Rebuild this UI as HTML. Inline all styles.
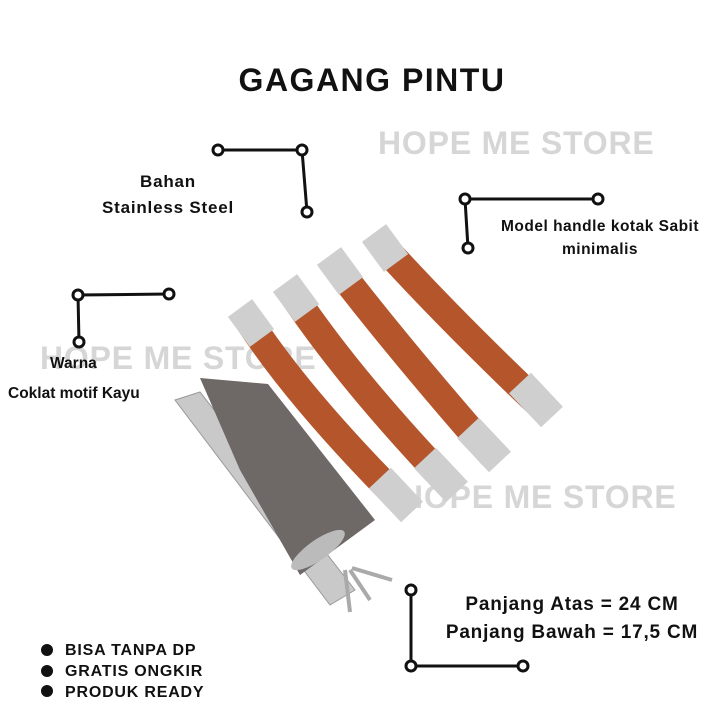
<!DOCTYPE html>
<html><head><meta charset="utf-8"><style>
body{margin:0;background:#fff;width:726px;height:726px;overflow:hidden;position:relative;font-family:"Liberation Sans",sans-serif;font-weight:bold;color:#111}
.t{position:absolute;white-space:nowrap}
.wm{position:absolute;color:#d6d6d6;font-size:32px;white-space:nowrap;letter-spacing:0.8px}
svg{position:absolute;left:0;top:0}
</style></head><body>
<div class="wm" style="left:378px;top:125px">HOPE ME STORE</div>
<div class="wm" style="left:40px;top:340px">HOPE ME STORE</div>
<div class="wm" style="left:400px;top:479px">HOPE ME STORE</div>
<svg width="726" height="726">
<g fill="none" stroke="#111" stroke-width="3">
<polyline points="218,150 302,150 307,212"/>
<polyline points="598,199 465,199 468,248"/>
<polyline points="169,294 78,295 79,342"/>
<polyline points="411,590 411,666 523,666"/>
</g>
<g fill="#fff" stroke="#111" stroke-width="3">
<circle cx="218" cy="150" r="5"/><circle cx="302" cy="150" r="5"/><circle cx="307" cy="212" r="5"/>
<circle cx="598" cy="199" r="5"/><circle cx="465" cy="199" r="5"/><circle cx="468" cy="248" r="5"/>
<circle cx="169" cy="294" r="5"/><circle cx="78" cy="295" r="5"/><circle cx="79" cy="342" r="5"/>
<circle cx="411" cy="590" r="5"/><circle cx="411" cy="666" r="5"/><circle cx="523" cy="666" r="5"/>
</g>
<g fill="#111"><circle cx="47" cy="650" r="6"/><circle cx="47" cy="671" r="6"/><circle cx="47" cy="691" r="6"/></g>
<!-- lock -->
<polygon points="175,400 200,392 355,590 330,605" fill="#c9c9c9" stroke="#999"/>
<polygon points="200,378 268,384 375,520 300,575 240,470" fill="#6e6866"/>
<ellipse cx="318" cy="550" rx="32" ry="10" fill="#bbb" transform="rotate(-35 318 550)"/>
<g stroke="#aaa" stroke-width="4"><line x1="345" y1="570" x2="350" y2="612"/><line x1="350" y1="570" x2="370" y2="600"/><line x1="352" y1="568" x2="392" y2="580"/></g>
<!-- handles -->
<g fill="none" stroke-linecap="butt">
<g><path d="M248,320 Q300,400 405,505" stroke="#b5552b" stroke-width="28"/><path d="M240,308 L262,338 M380,478 L412,512" stroke="#cfcfcf" stroke-width="30"/></g>
<g><path d="M293,295 Q350,380 450,485" stroke="#b5552b" stroke-width="28"/><path d="M285,283 L307,313 M425,458 L457,492" stroke="#cfcfcf" stroke-width="30"/></g>
<g><path d="M337,268 Q400,350 492,455" stroke="#b5552b" stroke-width="28"/><path d="M329,256 L351,286 M468,428 L500,462" stroke="#cfcfcf" stroke-width="30"/></g>
<g><path d="M382,245 Q450,320 545,410" stroke="#b5552b" stroke-width="28"/><path d="M374,233 L396,263 M520,383 L552,417" stroke="#cfcfcf" stroke-width="30"/></g>
</g>
</svg>
<div class="t" style="left:0;width:744px;text-align:center;top:62px;font-size:32px;letter-spacing:1.5px">GAGANG PINTU</div>
<div class="t" style="left:68px;width:200px;text-align:center;top:169px;font-size:17px;line-height:26px;letter-spacing:0.8px">Bahan<br>Stainless Steel</div>
<div class="t" style="left:480px;width:240px;text-align:center;top:215px;font-size:15.5px;line-height:23px;letter-spacing:0.5px">Model handle kotak Sabit<br>minimalis</div>
<div class="t" style="left:50px;top:355px;font-size:15.5px">Warna</div>
<div class="t" style="left:8px;top:385px;font-size:15.5px">Coklat motif Kayu</div>
<div class="t" style="left:432px;width:280px;text-align:center;top:591px;font-size:19px;line-height:28px;letter-spacing:0.8px">Panjang Atas = 24 CM<br>Panjang Bawah = 17,5 CM</div>
<div class="t" style="left:65px;top:640px;font-size:16px;line-height:21px;letter-spacing:0.8px">BISA TANPA DP<br>GRATIS ONGKIR<br>PRODUK READY</div>
</body></html>
